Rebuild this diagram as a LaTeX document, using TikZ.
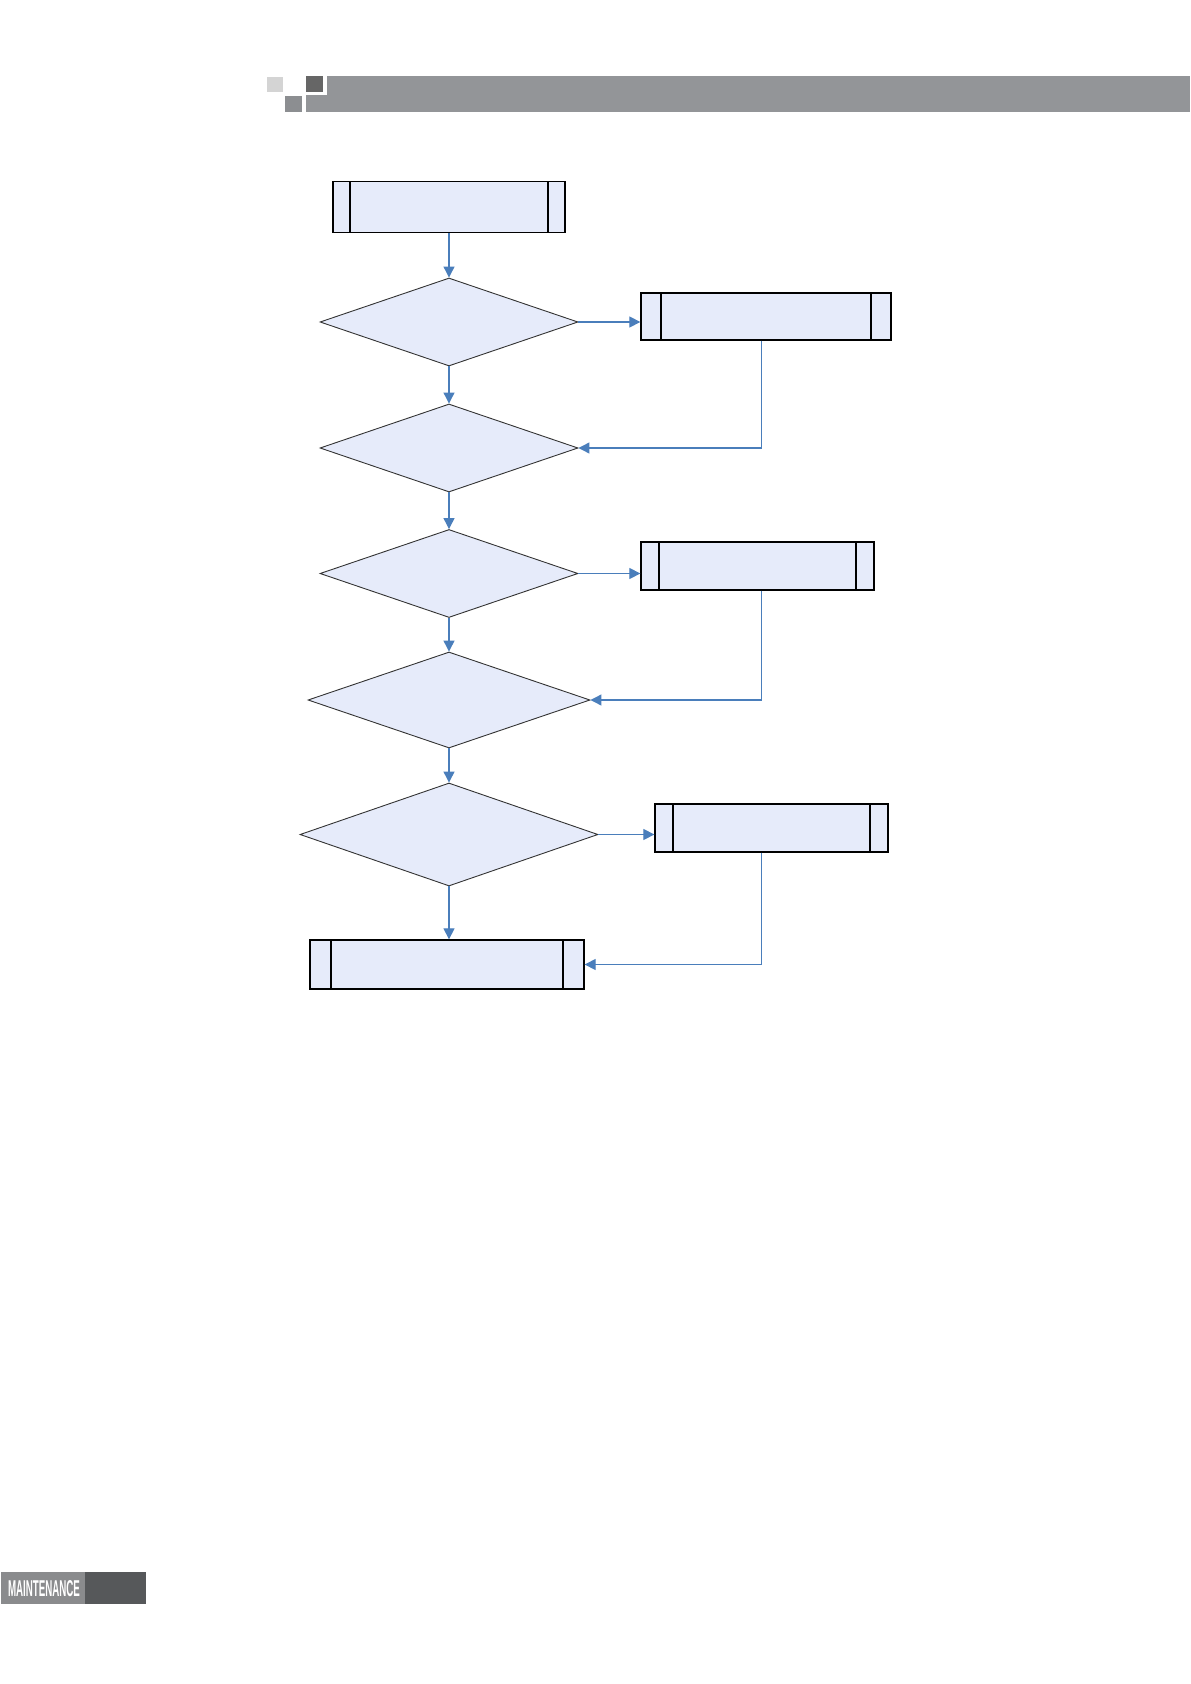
\documentclass[tikz,border=0pt]{standalone}
\usepackage{fontspec}
\setsansfont{Liberation Sans}
\usetikzlibrary{arrows.meta,shapes.geometric,calc}

\definecolor{boxfill}{RGB}{230,235,250}
\definecolor{flowblue}{RGB}{74,126,187}
\definecolor{bargray}{RGB}{147,149,152}
\definecolor{lightsq}{RGB}{212,212,212}
\definecolor{darksq}{RGB}{102,102,102}
\definecolor{midsq}{RGB}{140,142,145}
\definecolor{tabgray}{RGB}{138,139,141}
\definecolor{tabdark}{RGB}{86,88,90}

\tikzset{
  proc/.style={rectangle, draw=black, line width=0.65pt, fill=boxfill, inner sep=0pt,
    path picture={
      \draw[line width=0.65pt] ([xshift=#1]path picture bounding box.north west) -- ([xshift=#1]path picture bounding box.south west);
      \draw[line width=0.65pt] ([xshift=-#1]path picture bounding box.north east) -- ([xshift=-#1]path picture bounding box.south east);
    }},
  proc/.default=9pt,
  decide/.style={diamond, draw=black!80, line width=0.45pt, fill=boxfill, inner sep=0pt},
  flow/.style={draw=flowblue, line width=0.6pt, -{Triangle[length=5.5pt,width=5.5pt]}},
}

\begin{document}
\begin{tikzpicture}[x=0.5pt, y=-0.5pt]
    \useasboundingbox (0,0) rectangle (1190,1684);

    % Header
    \fill[bargray] (306,76) rectangle (1190,112);
    \fill[white] (306,76) rectangle (327,95);
    \fill[darksq] (306,76) rectangle (323,92);
    \fill[lightsq] (267,77) rectangle (283,92);
    \fill[midsq] (285,96) rectangle (302,112);

    % Nodes
    \node[proc=8.5pt, minimum width=116pt, minimum height=25.75pt] (start) at (449,207) {};
    \node[decide, minimum width=129pt, minimum height=44pt] (d_one) at (449,322) {};
    \node[decide, minimum width=129pt, minimum height=44pt] (d_two) at (449,448) {};
    \node[decide, minimum width=129pt, minimum height=44pt] (d_three) at (449,573.5) {};
    \node[decide, minimum width=141pt, minimum height=48pt] (d_four) at (449,700) {};
    \node[decide, minimum width=149pt, minimum height=51.5pt] (d_five) at (449,834.5) {};
    \node[proc=10.5pt, minimum width=137pt, minimum height=24.5pt] (finish) at (447,964.5) {};

    % Side boxes
    \node[proc=10pt, minimum width=125pt, minimum height=23.5pt] (fix_one) at (766,316.5) {};
    \node[proc=9pt, minimum width=116.5pt, minimum height=24pt] (fix_two) at (757.5,566) {};
    \node[proc=9pt, minimum width=116.5pt, minimum height=24pt] (fix_three) at (771.5,828) {};
    \coordinate (back) at (761.5,0);

    % Edges
    \draw[flow] (start.south) -- (d_one.north);
    \draw[flow] (d_one.south) -- (d_two.north);
    \draw[flow] (d_two.south) -- (d_three.north);
    \draw[flow] (d_three.south) -- (d_four.north);
    \draw[flow] (d_four.south) -- (d_five.north);
    \draw[flow] (d_five.south) -- (d_five.south |- finish.north);

    \draw[flow] (d_one.east) -- (d_one.east -| fix_one.west);
    \draw[flow] (d_three.east) -- (d_three.east -| fix_two.west);
    \draw[flow] (d_five.east) -- (d_five.east -| fix_three.west);

    \draw[flow] (fix_one.south -| back) |- (d_two.east);
    \draw[flow] (fix_two.south -| back) |- (d_four.east);
    \draw[flow] (fix_three.south -| back) |- (finish.east);

    % Footer tab
    \fill[tabgray] (1,1572) rectangle (85,1604);
    \fill[tabdark] (85,1572) rectangle (146,1604);
    \node[text=white, inner sep=0pt] (tab) at (44,1589) {\resizebox{36pt}{8pt}{\sffamily\bfseries MAINTENANCE}};
\end{tikzpicture}
\end{document}
